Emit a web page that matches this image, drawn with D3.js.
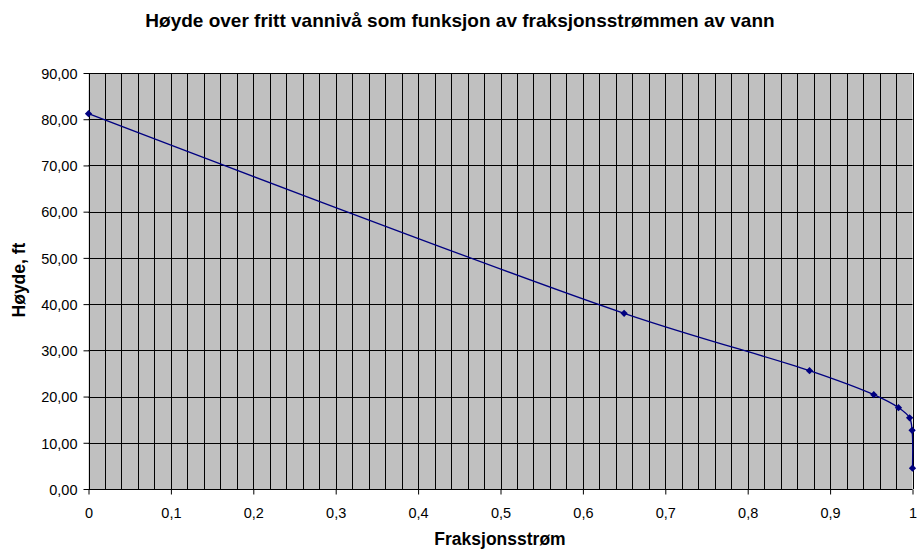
<!DOCTYPE html>
<html><head><meta charset="utf-8">
<script src="https://cdn.jsdelivr.net/npm/d3@7"></script>
<style>body{margin:0;background:#fff}svg{display:block}text{font-family:Arial,"Liberation Sans",sans-serif}</style>
</head><body>
<svg id="c" width="920" height="555"></svg>
<script>
const fraction = [0, 0.65, 0.875, 0.953, 0.983, 0.9965, 0.9995, 1.0];
const height = [81.2, 38.0, 25.6, 20.4, 17.6, 15.4, 12.7, 4.5];
const xTicks = [0,0.1,0.2,0.3,0.4,0.5,0.6,0.7,0.8,0.9,1];
const yTicks = [0,10,20,30,40,50,60,70,80,90];
const title = "Høyde over fritt vannivå som funksjon av fraksjonsstrømmen av vann";
const xTitle = "Fraksjonsstrøm";
const yTitle = "Høyde, ft";

const svg = d3.select("#c");
const L = 88.5, R = 912.5, T = 73, B = 489;
const x = d3.scaleLinear().domain([0,1]).range([L,R]);
const y = d3.scaleLinear().domain([0,90]).range([B,T]);

svg.append("rect").attr("x",L).attr("y",T).attr("width",R-L).attr("height",B-T).attr("fill","#C0C0C0");

const g = svg.append("g");
const vgrid = d3.range(1,51).map(i=>i/50);
g.selectAll("line.v").data(vgrid).enter().append("line")
  .attr("x1",d=>Math.round(x(d))+0.5).attr("x2",d=>Math.round(x(d))+0.5)
  .attr("y1",T).attr("y2",B).attr("stroke","#000").attr("stroke-width",1);
g.selectAll("line.h").data(yTicks.slice(1)).enter().append("line")
  .attr("x1",L).attr("x2",R).attr("y1",d=>Math.round(y(d))+0.5).attr("y2",d=>Math.round(y(d))+0.5)
  .attr("stroke","#000").attr("stroke-width",1);

const fmtY = d=>d3.format(".2f")(d).replace(".",",");
const fmtX = d=>(d===0||d===1)? String(d) : String(d).replace(".",",");

const xAxis = svg.append("g").attr("transform",`translate(0,${Math.round(B)+0.5})`)
  .call(d3.axisBottom(x).tickValues(xTicks).tickFormat(fmtX).tickSize(5).tickSizeOuter(0));
const yAxis = svg.append("g").attr("transform",`translate(${Math.round(L)+0.5},0)`)
  .call(d3.axisLeft(y).tickValues(yTicks).tickFormat(fmtY).tickSize(6).tickSizeOuter(0));
[xAxis,yAxis].forEach(a=>{
  a.selectAll("line").attr("stroke","#000");
  a.selectAll("text").attr("font-size","14.5px").attr("fill","#000").attr("font-family","Arial,'Liberation Sans',sans-serif");
});
xAxis.select("path.domain").attr("stroke","#000").attr("d",`M${L},0H${R}`);
yAxis.select("path.domain").attr("stroke","#000").attr("d",`M0,${T}V${B}`);
xAxis.selectAll("text").attr("y",28).attr("dy",0);
yAxis.selectAll("text").attr("x",-12).attr("dy","0.36em");

const pts = fraction.map((f,i)=>[f,height[i]]);
const line = d3.line().x(d=>x(d[0])).y(d=>y(d[1])).curve(d3.curveCatmullRom.alpha(0.5));
svg.append("path").attr("d",line(pts)).attr("fill","none").attr("stroke","#000080").attr("stroke-width",1.3);
svg.selectAll("path.m").data(pts).enter().append("path")
  .attr("d",d3.symbol().type(d3.symbolDiamond2).size(34))
  .attr("transform",d=>`translate(${x(d[0])},${y(d[1])})`)
  .attr("fill","#000080");

svg.append("text").attr("x",460).attr("y",27).attr("text-anchor","middle")
  .attr("font-size","19px").attr("font-weight","bold").text(title);
svg.append("text").attr("x",500).attr("y",545).attr("text-anchor","middle")
  .attr("font-size","17.5px").attr("font-weight","bold").text(xTitle);
svg.append("text").attr("transform","translate(25,280) rotate(-90)").attr("text-anchor","middle")
  .attr("font-size","17.5px").attr("font-weight","bold").text(yTitle);
</script>
</body></html>
